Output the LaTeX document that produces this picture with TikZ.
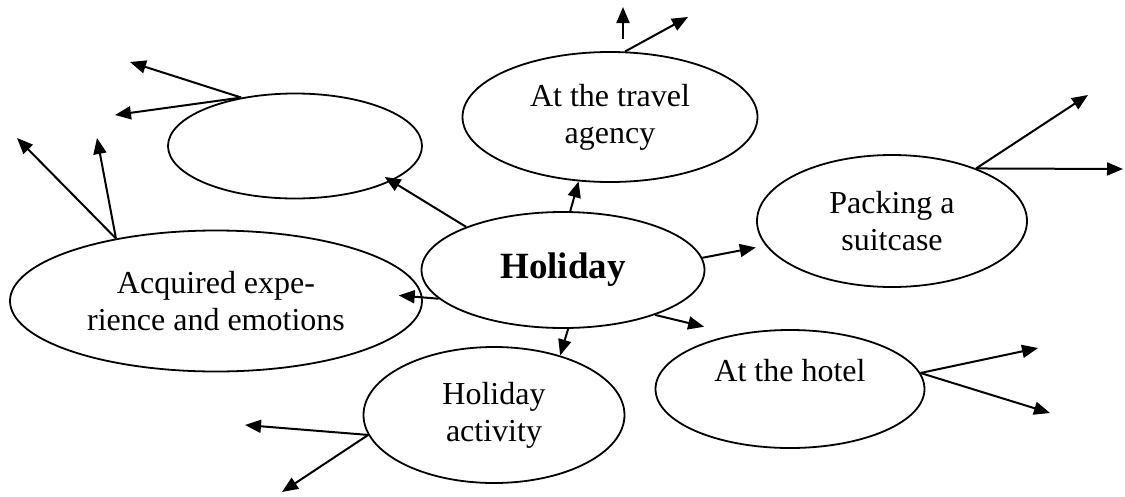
\documentclass[tikz,border=0pt]{standalone}
\usepackage{fontspec}
\setmainfont{Liberation Serif}
\usepackage{tikz}
\usetikzlibrary{arrows.meta, shapes.geometric}

\begin{document}
\begin{tikzpicture}[
    x=1pt, y=-1pt,
    bubble/.style={ellipse, draw=black, line width=1.8pt, inner sep=0pt,
                align=center, font=\fontsize{32}{37}\selectfont},
    arrow/.style={-{Triangle[length=16pt, width=13pt]}, line width=2pt},
]
    \useasboundingbox (0,0) rectangle (1125,496);

    \node[bubble, minimum width=283pt, minimum height=116pt,
          font=\fontsize{37}{40}\selectfont\bfseries] (holiday) at (563,270) {Holiday};
    \node[bubble, minimum width=254pt, minimum height=105pt] (blank) at (295,146) {};
    \node[bubble, minimum width=295pt, minimum height=130pt] (agency) at (610,117) {At the travel\\agency};
    \node[bubble, minimum width=270pt, minimum height=132pt] (packing) at (892,221) {Packing a\\suitcase};
    \node[bubble, minimum width=412pt, minimum height=141pt] (emotions) at (216,301) {Acquired expe-\\rience and emotions};
    \node[bubble, minimum width=261pt, minimum height=136pt] (activity) at (494,415) {Holiday\\activity};
    \node[bubble, minimum width=269pt, minimum height=118pt] (hotel) at (790,389) {At the hotel\\\mbox{}};

    \draw[arrow] (holiday.83) -- (agency.244);
    \draw[arrow, shorten >=-8pt] (holiday.156) -- (blank.340);
    \draw[arrow, shorten >=-24pt] (holiday.193) -- (emotions.1);
    \draw[arrow, shorten >=10pt] (holiday.5) -- (packing.191);
    \draw[arrow, shorten >=32pt] (holiday.334) -- (hotel.135);
    \draw[arrow] (holiday.275) -- (activity.42);

    % open ends
    \coordinate (blank1) at (130,62);
    \coordinate (blank2) at (115,115);
    \coordinate (emotions1) at (17,138);
    \coordinate (emotions2) at (97,138);
    \coordinate (agency1) at (623,7);
    \coordinate (agency2) at (688,17);
    \coordinate (packing1) at (1088,95);
    \coordinate (packing2) at (1123,169);
    \coordinate (hotel1) at (1038,348);
    \coordinate (hotel2) at (1050,413);
    \coordinate (activity1) at (245,425);
    \coordinate (activity2) at (282,492);

    \draw[arrow] (blank.138) -- (blank1);
    \draw[arrow] (blank.138) -- (blank2);
    \draw[arrow] (emotions.148) -- (emotions1);
    \draw[arrow] (emotions.148) -- (emotions2);
    \draw[arrow] ([shift={(13,-12)}]agency.north) -- (agency1);
    \draw[arrow] (agency.77) -- (agency2);
    \draw[arrow] (packing.32) -- (packing1);
    \draw[arrow] (packing.32) -- (packing2);
    \draw[arrow] (hotel.7) -- (hotel1);
    \draw[arrow] (hotel.7) -- (hotel2);
    \draw[arrow] (activity.189) -- (activity1);
    \draw[arrow] (activity.189) -- (activity2);
\end{tikzpicture}
\end{document}
